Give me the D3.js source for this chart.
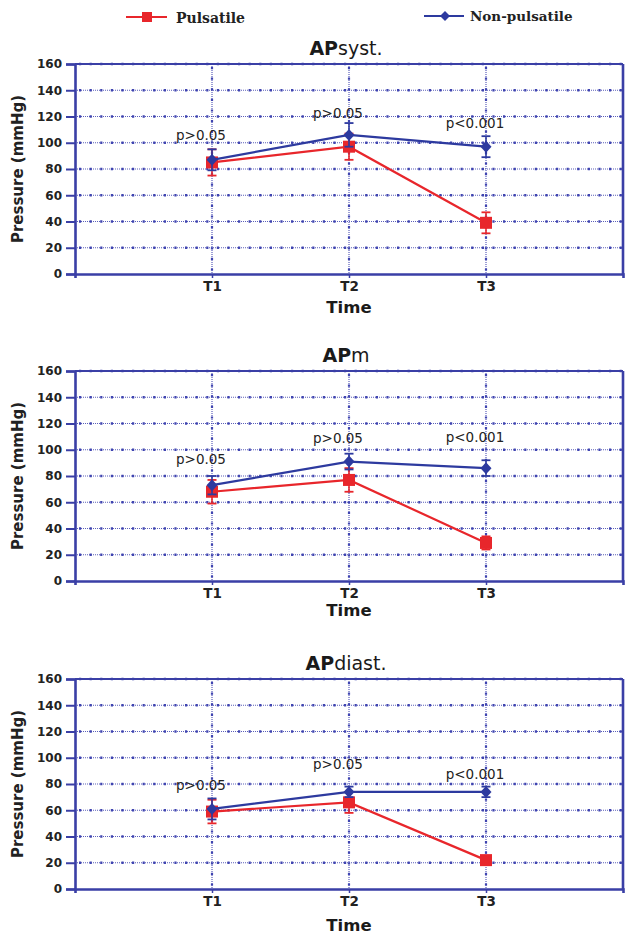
<!DOCTYPE html>
<html><head><meta charset="utf-8">
<script src="https://cdn.jsdelivr.net/npm/d3@7"></script>
<style>body{margin:0;background:#fff}svg{display:block}</style>
</head><body>
<svg id="c" width="626" height="936"></svg>
<script>
// ---------- data ----------
const categories = ["T1", "T2", "T3"];
const yTicks = [0, 20, 40, 60, 80, 100, 120, 140, 160];
const panelTitleBold = ["AP", "AP", "AP"];
const panelTitleRest = ["syst.", "m", "diast."];
const seriesNames = ["Pulsatile", "Non-pulsatile"];

const pulsatileMean = [[85, 97, 39], [68, 77, 29], [59, 66, 22]];
const pulsatileErr  = [[10, 10, 8], [9, 9, 5], [9, 8, 3]];
const nonPulsMean   = [[87, 106, 97], [73, 91, 86], [61, 74, 74]];
const nonPulsErr    = [[8, 9, 8], [7, 6, 6], [8, 4, 4]];

const pLabels  = [["p>0.05", "p>0.05", "p<0.001"], ["p>0.05", "p>0.05", "p<0.001"], ["p>0.05", "p>0.05", "p<0.001"]];
const pLabelAt = [[106, 123, 115], [93, 109, 110], [79, 95, 88]];

// ---------- layout ----------
const left = 75, right = 623;
const panelTops = [64, 371, 679];
const panelH = 210;
const timeDy = [39, 35, 42];
const RED = "#e8262b", BLUE = "#2d3a9f", AXIS = "#3a3fa6", GRID = "#3f44b0";

const svg = d3.select("#c");
const x = d3.scaleLinear().domain([0, 4]).range([left, right]);

panelTops.forEach((top, pi) => {
  const bottom = top + panelH;
  const y = d3.scaleLinear().domain([0, 160]).range([bottom, top]);
  const g = svg.append("g");

  // horizontal grid (dotted)
  yTicks.filter(v => v > 0).forEach(v => {
    g.append("line").attr("x1", left).attr("x2", right).attr("y1", y(v)).attr("y2", y(v))
      .attr("stroke", GRID).attr("stroke-width", 1.2).attr("stroke-dasharray", "1,1").attr("opacity", 0.85);
    g.append("line").attr("x1", left + 4).attr("x2", right).attr("y1", y(v)).attr("y2", y(v))
      .attr("stroke", GRID).attr("stroke-width", 2.4).attr("stroke-dasharray", "2.2,8.4");
  });
  // vertical grid at categories
  categories.forEach((c, i) => {
    g.append("line").attr("x1", x(i + 1)).attr("x2", x(i + 1)).attr("y1", top).attr("y2", bottom)
      .attr("stroke", GRID).attr("stroke-width", 1.2).attr("stroke-dasharray", "1,1").attr("opacity", 0.85);
    g.append("line").attr("x1", x(i + 1)).attr("x2", x(i + 1)).attr("y1", top + 3).attr("y2", bottom)
      .attr("stroke", GRID).attr("stroke-width", 2.2).attr("stroke-dasharray", "2.2,8.4");
  });

  // y axis
  const ya = g.append("g").attr("transform", `translate(${left},0)`)
    .call(d3.axisLeft(y).tickValues(yTicks).tickSize(9).tickPadding(4));
  ya.select(".domain").attr("stroke", AXIS).attr("stroke-width", 2.6);
  ya.selectAll(".tick line").attr("stroke", AXIS).attr("stroke-width", 2);
  ya.selectAll(".tick text").attr("fill", "#222").attr("font-family", "DejaVu Sans")
    .attr("font-weight", "bold").attr("font-size", 12);

  // x axis
  const xa = g.append("g").attr("transform", `translate(0,${bottom})`)
    .call(d3.axisBottom(x).tickValues([1, 2, 3]).tickFormat(d => categories[d - 1]).tickSize(4).tickPadding(3));
  xa.select(".domain").attr("stroke", AXIS).attr("stroke-width", 2.6);
  xa.selectAll(".tick line").attr("stroke", AXIS).attr("stroke-width", 1.5);
  xa.selectAll(".tick text").attr("fill", "#222").attr("font-family", "DejaVu Sans")
    .attr("font-weight", "bold").attr("font-size", 13.5);

  // top & right frame
  g.append("line").attr("x1", left).attr("x2", right).attr("y1", top).attr("y2", top)
    .attr("stroke", AXIS).attr("stroke-width", 2.2);
  g.append("line").attr("x1", right).attr("x2", right).attr("y1", top).attr("y2", bottom)
    .attr("stroke", AXIS).attr("stroke-width", 2.6);

  // titles
  const t = g.append("text").attr("x", (left + right) / 2 - 3).attr("y", top - 9)
    .attr("text-anchor", "middle").attr("font-family", "DejaVu Sans").attr("font-size", 19).attr("fill", "#1a1a1a");
  t.append("tspan").attr("font-weight", "bold").text(panelTitleBold[pi]);
  t.append("tspan").text(panelTitleRest[pi]);

  g.append("text").attr("x", (left + right) / 2).attr("y", bottom + timeDy[pi])
    .attr("text-anchor", "middle").attr("font-family", "DejaVu Sans").attr("font-weight", "bold")
    .attr("font-size", 16.5).attr("fill", "#1a1a1a").text("Time");

  g.append("text").attr("transform", `translate(23,${(top + bottom) / 2}) rotate(-90)`)
    .attr("text-anchor", "middle").attr("font-family", "DejaVu Sans").attr("font-weight", "bold")
    .attr("font-size", 15).attr("fill", "#222").text("Pressure (mmHg)");

  // series
  const series = [
    { mean: pulsatileMean[pi], err: pulsatileErr[pi], color: RED, marker: "square" },
    { mean: nonPulsMean[pi], err: nonPulsErr[pi], color: BLUE, marker: "diamond" }
  ];
  const line = d3.line().x((d, i) => x(i + 1)).y(d => y(d));
  series.forEach(s => {
    g.append("path").datum(s.mean).attr("d", line).attr("fill", "none")
      .attr("stroke", s.color).attr("stroke-width", 2.2);
    s.mean.forEach((m, i) => {
      const cx = x(i + 1);
      const e = s.err[i];
      g.append("line").attr("x1", cx).attr("x2", cx).attr("y1", y(m - e)).attr("y2", y(m + e))
        .attr("stroke", s.color).attr("stroke-width", 1.6);
      [m - e, m + e].forEach(v => g.append("line").attr("x1", cx - 4.5).attr("x2", cx + 4.5)
        .attr("y1", y(v)).attr("y2", y(v)).attr("stroke", s.color).attr("stroke-width", 1.8));
      const cy = y(m);
      if (s.marker === "square") {
        g.append("rect").attr("x", cx - 6).attr("y", cy - 6).attr("width", 12).attr("height", 12).attr("fill", s.color);
      } else {
        g.append("path").attr("d", `M${cx},${cy - 6}L${cx + 5.5},${cy}L${cx},${cy + 6}L${cx - 5.5},${cy}Z`).attr("fill", s.color);
      }
    });
  });

  // p labels
  pLabels[pi].forEach((lab, i) => {
    g.append("text").attr("x", x(i + 1) - 11).attr("y", y(pLabelAt[pi][i]) + 5)
      .attr("text-anchor", "middle").attr("font-family", "DejaVu Sans").attr("font-size", 13.5)
      .attr("fill", "#222").text(lab);
  });
});

// legend
const lg = svg.append("g");
lg.append("line").attr("x1", 126).attr("x2", 167).attr("y1", 17).attr("y2", 17).attr("stroke", RED).attr("stroke-width", 2);
lg.append("rect").attr("x", 142).attr("y", 12).attr("width", 10).attr("height", 10).attr("fill", RED);
lg.append("text").attr("x", 176).attr("y", 23).attr("font-family", "DejaVu Serif").attr("font-weight", "bold")
  .attr("font-size", 14).attr("fill", "#222").text(seriesNames[0]);
lg.append("line").attr("x1", 424).attr("x2", 464).attr("y1", 16).attr("y2", 16).attr("stroke", BLUE).attr("stroke-width", 2);
lg.append("path").attr("d", "M445,11L450,16L445,21L440,16Z").attr("fill", BLUE);
lg.append("text").attr("x", 470).attr("y", 21).attr("font-family", "DejaVu Serif").attr("font-weight", "bold")
  .attr("font-size", 13.5).attr("fill", "#222").text(seriesNames[1]);
</script>
</body></html>
